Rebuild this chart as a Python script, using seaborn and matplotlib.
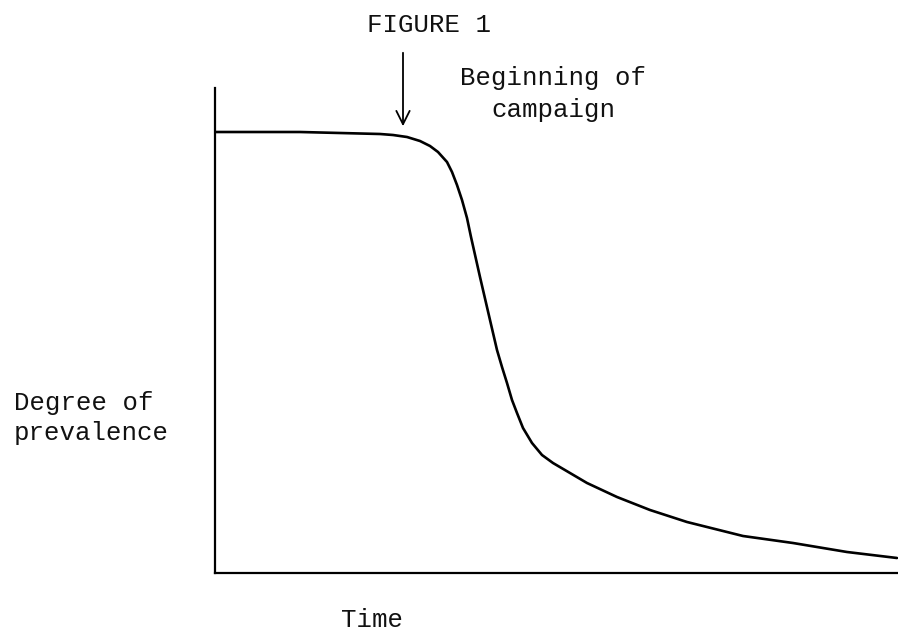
import matplotlib
matplotlib.use("Agg")
import matplotlib.pyplot as plt
import seaborn as sns
import pandas as pd

# Hand-drawn curve (time units, prevalence units)
time = [0, 85, 165, 178, 192, 205, 215, 223, 232, 237, 242, 247, 252, 256,
        265, 275, 282, 287, 292, 297, 302, 308, 317, 327, 338, 355, 372,
        402, 435, 472, 528, 578, 632, 682]
prevalence = [441, 441, 439, 438, 436, 432, 427, 421, 411, 401, 388, 373, 355, 336,
              296, 253, 223, 206, 190, 173, 160, 145, 130, 118, 110, 100, 90,
              76, 63, 51, 37, 30, 21, 15]
campaign_start = 188

title_text = "FIGURE 1"
annot_text = "Beginning of\ncampaign"
ylabel_text = "Degree of\nprevalence"
xlabel_text = "Time"

df = pd.DataFrame({"Time": time, "Prevalence": prevalence})

sns.set_theme(style="white")
plt.rcParams["font.family"] = ["Liberation Mono", "DejaVu Sans Mono"]

W, H = 898, 636
fig = plt.figure(figsize=(W / 100, H / 100), dpi=100)
ax = fig.add_axes([215 / W, 1 - 573 / H, 683 / W, 485 / H])

sns.lineplot(data=df, x="Time", y="Prevalence", ax=ax, color="black",
             linewidth=1.9, sort=False)

ax.set_xlim(0, 683)
ax.set_ylim(0, 485)
ax.set_xticks([])
ax.set_yticks([])
ax.set_xlabel("")
ax.set_ylabel("")
for s in ["top", "right"]:
    ax.spines[s].set_visible(False)
for s in ["left", "bottom"]:
    ax.spines[s].set_color("black")
    ax.spines[s].set_linewidth(1.6)

ax.annotate("", xy=(campaign_start, 444), xytext=(campaign_start, 523),
            arrowprops=dict(arrowstyle="->", color="black", lw=1.3,
                            mutation_scale=24),
            annotation_clip=False)

fs = 18.5
tc = "#111111"
fig.text(429 / W, 1 - 25 / H, title_text, ha="center", va="center",
         fontsize=fs, color=tc)
fig.text(553 / W, 1 - 94 / H, annot_text, ha="center", va="center",
         fontsize=fs, color=tc, linespacing=1.38)
fig.text(14 / W, 1 - 418 / H, ylabel_text, ha="left", va="center",
         fontsize=fs, color=tc, linespacing=1.33)
fig.text(372 / W, 1 - 620 / H, xlabel_text, ha="center", va="center",
         fontsize=fs, color=tc)

fig.savefig("out.png", dpi=100, facecolor="white")
